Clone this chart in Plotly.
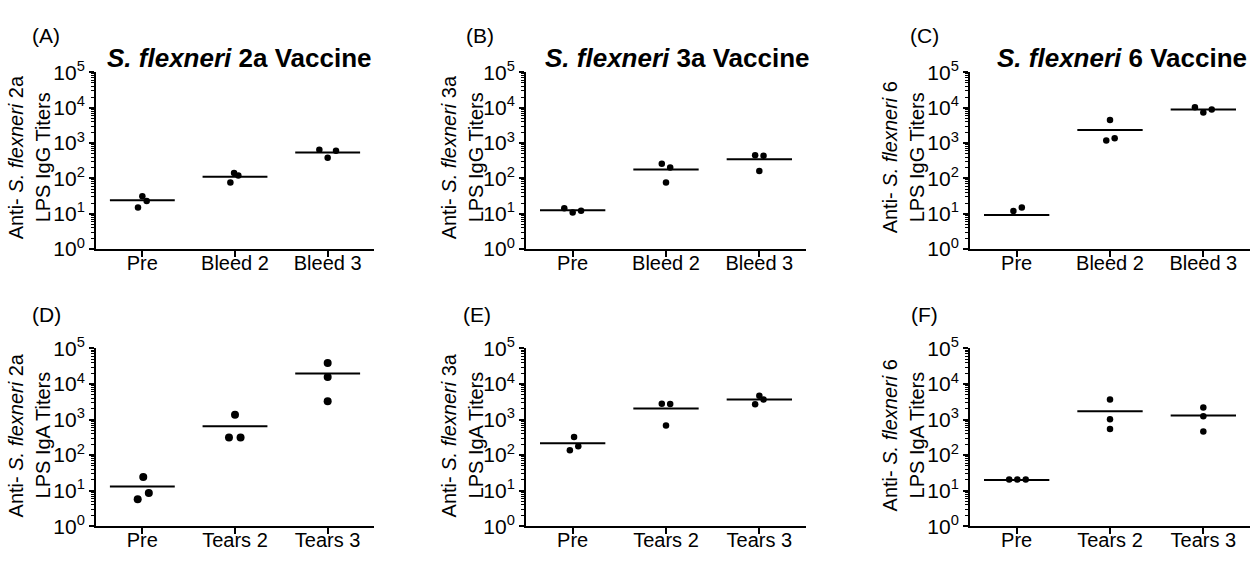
import plotly.graph_objects as go

# ---------------- data ----------------
categories_top = ["Pre", "Bleed 2", "Bleed 3"]
categories_bottom = ["Pre", "Tears 2", "Tears 3"]
y_tick_values = [1, 10, 100, 1000, 10000, 100000]
y_tick_labels = ["10<sup>0</sup>", "10<sup>1</sup>", "10<sup>2</sup>",
                 "10<sup>3</sup>", "10<sup>4</sup>", "10<sup>5</sup>"]

# (A) IgG, S. flexneri 2a vaccine
igg_2a = [[31, 23, 15], [143, 121, 77], [643, 603, 382]]
igg_2a_mean = [24, 111, 543]
# (B) IgG, S. flexneri 3a vaccine
igg_3a = [[14.4, 10.8, 12.2], [260, 203, 77], [454, 436, 162]]
igg_3a_mean = [12.5, 179, 347]
# (C) IgG, S. flexneri 6 vaccine (third Pre value is below the log axis)
igg_6 = [[12, 15], [4455, 1180, 1365], [10200, 7330, 8830]]
igg_6_mean = [9.2, 2340, 8830]
# (D) IgA, S. flexneri 2a
iga_2a = [[24.4, 8.65, 5.7], [1365, 313, 313], [39300, 15800, 3260]]
iga_2a_mean = [13.1, 647, 19800]
# (E) IgA, S. flexneri 3a
iga_3a = [[326, 179, 137], [2800, 2742, 687], [4690, 3660, 2685]]
iga_3a_mean = [216, 2052, 3660]
# (F) IgA, S. flexneri 6
iga_6 = [[20.5, 20.5, 20.5], [3660, 1017, 547], [2185, 1250, 463]]
iga_6_mean = [20, 1705, 1303]

panel_letters = ["(A)", "(B)", "(C)", "(D)", "(E)", "(F)"]
strains = ["2a", "3a", "6", "2a", "3a", "6"]
isotypes = ["IgG", "IgG", "IgG", "IgA", "IgA", "IgA"]

# ---------------- styling (positions / sizes) ----------------
W, H = 1257, 564
FONT = "Liberation Sans, Arial, sans-serif"
# horizontal scatter offsets (category units) mimicking the dot spreading
jitter = [
    [[0, 0.047, -0.047], [-0.01, 0.036, -0.05], [-0.09, 0.09, 0]],
    [[-0.09, 0, 0.09], [-0.045, 0.045, 0], [-0.045, 0.045, 0]],
    [[-0.035, 0.055], [0, -0.04, 0.05], [-0.09, 0, 0.09]],
    [[0.01, 0.07, -0.05], [0, -0.065, 0.06], [0, 0, 0]],
    [[0.015, 0.06, -0.03], [-0.045, 0.045, 0], [0, 0.045, -0.045]],
    [[-0.08, 0.007, 0.097], [0, 0, 0], [0, 0, 0]],
]
marker_sizes = [6.5, 6.5, 6.5, 8, 6.5, 6.5]
half_width = 0.35

col_px = [(96, 374), (526, 806), (970, 1250)]
row_px = [(61, 246), (350, 536)]
ytitle_x = [(16, 43), (449, 476), (890, 917)]
ytitle_y = [150, 441]
letter_pos = [(46, 22), (480, 22), (924, 22), (46, 314), (477, 314), (924, 314)]
title_pos = [(239, 46), (677, 46), (1122, 46)]

# minor (log) tick positions derived from the major decades
minor_vals = [k * d for d in y_tick_values[:-1] for k in range(2, 10)]


def px(x):
    return x / W


def py(y):
    return 1 - y / H


panels = [igg_2a, igg_3a, igg_6, iga_2a, iga_3a, iga_6]
means = [igg_2a_mean, igg_3a_mean, igg_6_mean, iga_2a_mean, iga_3a_mean, iga_6_mean]

fig = go.Figure()
layout = {}
annotations = []

for p in range(6):
    r, c = divmod(p, 3)
    idx = "" if p == 0 else str(p + 1)
    xa, ya = "x" + idx, "y" + idx
    cats = categories_top if r == 0 else categories_bottom

    # points
    xs, ys = [], []
    for i, grp in enumerate(panels[p]):
        for j, v in enumerate(grp):
            xs.append(i + jitter[p][i][j])
            ys.append(v)
    fig.add_trace(go.Scatter(x=xs, y=ys, mode="markers", xaxis=xa, yaxis=ya,
                             marker=dict(color="black", size=marker_sizes[p]),
                             showlegend=False, hoverinfo="y"))
    # mean lines
    lx, ly = [], []
    for i, m in enumerate(means[p]):
        lx += [i - half_width, i + half_width, None]
        ly += [m, m, None]
    fig.add_trace(go.Scatter(x=lx, y=ly, mode="lines", xaxis=xa, yaxis=ya,
                             line=dict(color="black", width=2),
                             showlegend=False, hoverinfo="skip"))

    x0, x1 = col_px[c]
    y0, y1 = row_px[r]
    layout["xaxis" + idx] = dict(
        domain=[px(x0), px(x1)], anchor=ya, range=[-0.5, 2.5],
        tickvals=[0, 1, 2], ticktext=cats, showline=True, linecolor="black",
        linewidth=2, ticks="outside", ticklen=6, tickwidth=2, tickcolor="black",
        showgrid=False, zeroline=False, ticklabelstandoff=-11,
        tickfont=dict(family=FONT, size=20, color="black"),
    )
    layout["yaxis" + idx] = dict(
        domain=[py(y1), py(y0)], anchor=xa, type="log", range=[0, 5],
        tickmode="array", tickvals=y_tick_values, ticktext=y_tick_labels,
        showline=True, linecolor="black", linewidth=2, ticks="outside",
        ticklen=5, tickwidth=2, tickcolor="black", showgrid=False,
        zeroline=False,
        tickfont=dict(family=FONT, size=21, color="black"),
        minor=dict(tickmode="array", tickvals=minor_vals, ticks="outside",
                   ticklen=3, tickwidth=1, tickcolor="black", showgrid=False),
    )

    # y-axis title (two rotated lines)
    line_texts = [f"Anti- <i>S. flexneri</i> {strains[p]}",
                  f"LPS {isotypes[p]} Titers"]
    for k in range(2):
        annotations.append(dict(
            x=px(ytitle_x[c][k]), y=py(ytitle_y[r]), xref="paper", yref="paper",
            text=line_texts[k], textangle=-90, showarrow=False,
            xanchor="center", yanchor="middle",
            font=dict(family=FONT, size=20, color="black"),
        ))
    # panel letter
    lx_, ly_ = letter_pos[p]
    annotations.append(dict(
        x=px(lx_), y=py(ly_), xref="paper", yref="paper", text=panel_letters[p],
        showarrow=False, xanchor="center", yanchor="middle",
        font=dict(family=FONT, size=21, color="black"),
    ))
    # column titles (top row only)
    if r == 0:
        tx, ty = title_pos[c]
        annotations.append(dict(
            x=px(tx), y=py(ty), xref="paper", yref="paper",
            text=f"<b><i>S. flexneri</i> {strains[p]} Vaccine</b>",
            showarrow=False, xanchor="center", yanchor="middle",
            font=dict(family=FONT, size=26, color="black"),
        ))

fig.update_layout(
    width=W, height=H, margin=dict(l=0, r=0, t=0, b=0),
    paper_bgcolor="white", plot_bgcolor="white",
    annotations=annotations, **layout,
)

fig.write_html("out.html")
